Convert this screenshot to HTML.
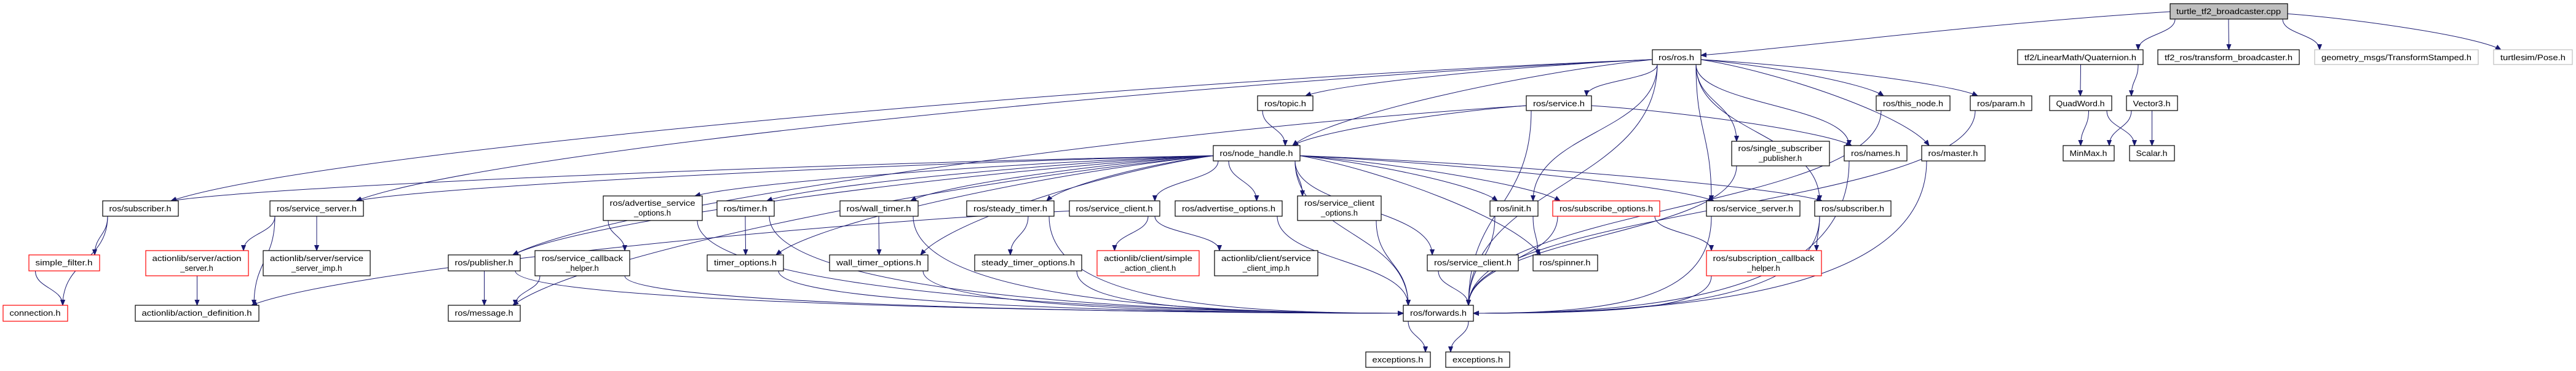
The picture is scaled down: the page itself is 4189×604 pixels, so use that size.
<!DOCTYPE html>
<html><head><meta charset="utf-8"><style>
html,body{margin:0;padding:0;background:#fff;}
svg{display:block;}
text{font-family:"Liberation Sans",sans-serif;font-size:13px;fill:#000;text-anchor:middle;}
rect{fill:#fff;stroke:#000;stroke-width:1.2;}
rect.red{stroke:#ff0000;}
rect.gray{stroke:#bfbfbf;}
rect.main{fill:#bfbfbf;}
path.e{fill:none;stroke:#191970;stroke-width:1;}
</style></head><body>
<svg id="s" width="4189" height="604" viewBox="0 0 4189 604" xmlns="http://www.w3.org/2000/svg">
<defs><marker id="a" viewBox="0 0 10 10" refX="10" refY="5" markerWidth="9" markerHeight="9" orient="auto" markerUnits="userSpaceOnUse"><path d="M0,1 L10,5 L0,9 z" fill="#191970" stroke="#191970"/></marker></defs>
<g id="edges"></g>
<g id="nodes">
<rect class="main" x="3529" y="6" width="191" height="25"/><text x="3624" y="23" textLength="170" lengthAdjust="spacingAndGlyphs">turtle_tf2_broadcaster.cpp</text>
<rect x="2687" y="81" width="79" height="24"/><text x="2726" y="98" textLength="58" lengthAdjust="spacingAndGlyphs">ros/ros.h</text>
<rect x="3281" y="81" width="204" height="24"/><text x="3383" y="98" textLength="182" lengthAdjust="spacingAndGlyphs">tf2/LinearMath/Quaternion.h</text>
<rect x="3509" y="81" width="230" height="24"/><text x="3624" y="98" textLength="208" lengthAdjust="spacingAndGlyphs">tf2_ros/transform_broadcaster.h</text>
<rect class="gray" x="3764" y="81" width="266" height="24"/><text x="3897" y="98" textLength="244" lengthAdjust="spacingAndGlyphs">geometry_msgs/TransformStamped.h</text>
<rect class="gray" x="4055" y="81" width="128" height="24"/><text x="4119" y="98" textLength="106" lengthAdjust="spacingAndGlyphs">turtlesim/Pose.h</text>
<rect x="2045" y="156" width="90" height="24"/><text x="2090" y="173" textLength="68" lengthAdjust="spacingAndGlyphs">ros/topic.h</text>
<rect x="2482" y="156" width="106" height="24"/><text x="2535" y="173" textLength="84" lengthAdjust="spacingAndGlyphs">ros/service.h</text>
<rect x="3051" y="156" width="120" height="24"/><text x="3111" y="173" textLength="98" lengthAdjust="spacingAndGlyphs">ros/this_node.h</text>
<rect x="3204" y="156" width="100" height="24"/><text x="3254" y="173" textLength="78" lengthAdjust="spacingAndGlyphs">ros/param.h</text>
<rect x="3333" y="156" width="101" height="24"/><text x="3383" y="173" textLength="79" lengthAdjust="spacingAndGlyphs">QuadWord.h</text>
<rect x="3458" y="156" width="83" height="24"/><text x="3499" y="173" textLength="61" lengthAdjust="spacingAndGlyphs">Vector3.h</text>
<rect x="1973" y="237" width="141" height="25"/><text x="2043" y="254" textLength="119" lengthAdjust="spacingAndGlyphs">ros/node_handle.h</text>
<rect x="2816" y="230" width="159" height="40"/><text x="2895" y="246" textLength="137" lengthAdjust="spacingAndGlyphs">ros/single_subscriber</text><text x="2895" y="262">_publisher.h</text>
<rect x="2999" y="237" width="102" height="25"/><text x="3050" y="254" textLength="80" lengthAdjust="spacingAndGlyphs">ros/names.h</text>
<rect x="3125" y="237" width="103" height="25"/><text x="3176" y="254" textLength="81" lengthAdjust="spacingAndGlyphs">ros/master.h</text>
<rect x="3355" y="237" width="83" height="25"/><text x="3396" y="254" textLength="61" lengthAdjust="spacingAndGlyphs">MinMax.h</text>
<rect x="3463" y="237" width="73" height="25"/><text x="3499" y="254" textLength="51" lengthAdjust="spacingAndGlyphs">Scalar.h</text>
<rect x="167" y="327" width="123" height="25"/><text x="228" y="344" textLength="101" lengthAdjust="spacingAndGlyphs">ros/subscriber.h</text>
<rect x="439" y="327" width="152" height="25"/><text x="515" y="344" textLength="130" lengthAdjust="spacingAndGlyphs">ros/service_server.h</text>
<rect x="981" y="319" width="161" height="40"/><text x="1061" y="335" textLength="139" lengthAdjust="spacingAndGlyphs">ros/advertise_service</text><text x="1061" y="351">_options.h</text>
<rect x="1166" y="327" width="93" height="25"/><text x="1212" y="344" textLength="71" lengthAdjust="spacingAndGlyphs">ros/timer.h</text>
<rect x="1366" y="327" width="127" height="25"/><text x="1429" y="344" textLength="105" lengthAdjust="spacingAndGlyphs">ros/wall_timer.h</text>
<rect x="1572" y="327" width="142" height="25"/><text x="1643" y="344" textLength="120" lengthAdjust="spacingAndGlyphs">ros/steady_timer.h</text>
<rect x="1739" y="327" width="147" height="25"/><text x="1812" y="344" textLength="125" lengthAdjust="spacingAndGlyphs">ros/service_client.h</text>
<rect x="1911" y="327" width="174" height="25"/><text x="1998" y="344" textLength="152" lengthAdjust="spacingAndGlyphs">ros/advertise_options.h</text>
<rect x="2110" y="319" width="136" height="40"/><text x="2178" y="335" textLength="114" lengthAdjust="spacingAndGlyphs">ros/service_client</text><text x="2178" y="351">_options.h</text>
<rect x="2423" y="327" width="78" height="25"/><text x="2462" y="344" textLength="56" lengthAdjust="spacingAndGlyphs">ros/init.h</text>
<rect class="red" x="2525" y="327" width="174" height="25"/><text x="2612" y="344" textLength="152" lengthAdjust="spacingAndGlyphs">ros/subscribe_options.h</text>
<rect x="2775" y="327" width="152" height="25"/><text x="2851" y="344" textLength="130" lengthAdjust="spacingAndGlyphs">ros/service_server.h</text>
<rect x="2951" y="327" width="124" height="25"/><text x="3013" y="344" textLength="102" lengthAdjust="spacingAndGlyphs">ros/subscriber.h</text>
<rect class="red" x="47" y="415" width="115" height="26"/><text x="104" y="432" textLength="93" lengthAdjust="spacingAndGlyphs">simple_filter.h</text>
<rect class="red" x="237" y="408" width="167" height="41"/><text x="320" y="425" textLength="145" lengthAdjust="spacingAndGlyphs">actionlib/server/action</text><text x="320" y="441">_server.h</text>
<rect x="428" y="408" width="174" height="41"/><text x="515" y="425" textLength="152" lengthAdjust="spacingAndGlyphs">actionlib/server/service</text><text x="515" y="441">_server_imp.h</text>
<rect x="729" y="415" width="117" height="26"/><text x="787" y="432" textLength="95" lengthAdjust="spacingAndGlyphs">ros/publisher.h</text>
<rect x="870" y="408" width="154" height="41"/><text x="947" y="425" textLength="132" lengthAdjust="spacingAndGlyphs">ros/service_callback</text><text x="947" y="441">_helper.h</text>
<rect x="1150" y="415" width="124" height="26"/><text x="1212" y="432" textLength="102" lengthAdjust="spacingAndGlyphs">timer_options.h</text>
<rect x="1349" y="415" width="160" height="26"/><text x="1429" y="432" textLength="138" lengthAdjust="spacingAndGlyphs">wall_timer_options.h</text>
<rect x="1585" y="415" width="174" height="26"/><text x="1672" y="432" textLength="152" lengthAdjust="spacingAndGlyphs">steady_timer_options.h</text>
<rect class="red" x="1784" y="408" width="166" height="41"/><text x="1867" y="425" textLength="144" lengthAdjust="spacingAndGlyphs">actionlib/client/simple</text><text x="1867" y="441">_action_client.h</text>
<rect x="1975" y="408" width="168" height="41"/><text x="2059" y="425" textLength="146" lengthAdjust="spacingAndGlyphs">actionlib/client/service</text><text x="2059" y="441">_client_imp.h</text>
<rect x="2321" y="415" width="148" height="26"/><text x="2395" y="432" textLength="126" lengthAdjust="spacingAndGlyphs">ros/service_client.h</text>
<rect x="2493" y="415" width="105" height="26"/><text x="2545" y="432" textLength="83" lengthAdjust="spacingAndGlyphs">ros/spinner.h</text>
<rect class="red" x="2775" y="408" width="187" height="41"/><text x="2868" y="425" textLength="165" lengthAdjust="spacingAndGlyphs">ros/subscription_callback</text><text x="2868" y="441">_helper.h</text>
<rect class="red" x="5" y="497" width="105" height="26"/><text x="57" y="514" textLength="83" lengthAdjust="spacingAndGlyphs">connection.h</text>
<rect x="220" y="497" width="201" height="26"/><text x="320" y="514" textLength="179" lengthAdjust="spacingAndGlyphs">actionlib/action_definition.h</text>
<rect x="729" y="497" width="117" height="26"/><text x="787" y="514" textLength="95" lengthAdjust="spacingAndGlyphs">ros/message.h</text>
<rect x="2282" y="497" width="114" height="26"/><text x="2339" y="514" textLength="92" lengthAdjust="spacingAndGlyphs">ros/forwards.h</text>
<rect x="2221" y="573" width="105" height="25"/><text x="2273" y="590" textLength="83" lengthAdjust="spacingAndGlyphs">exceptions.h</text>
<rect x="2351" y="573" width="104" height="25"/><text x="2403" y="590" textLength="82" lengthAdjust="spacingAndGlyphs">exceptions.h</text>
</g>
</svg>
<script>
var N={
turtle:[3529,3720,6,31],ros:[2687,2766,81,105],quat:[3281,3485,81,105],tb:[3509,3739,81,105],ts:[3764,4030,81,105],pose:[4055,4183,81,105],
topic:[2045,2135,156,180],service:[2482,2588,156,180],thisnode:[3051,3171,156,180],param:[3204,3304,156,180],qw:[3333,3434,156,180],v3:[3458,3541,156,180],
nh:[1973,2114,237,262],ssp:[2816,2975,230,270],names:[2999,3101,237,262],master:[3125,3228,237,262],minmax:[3355,3438,237,262],scalar:[3463,3536,237,262],
subL:[167,290,327,352],ssL:[439,591,327,352],aso:[981,1142,319,359],timer:[1166,1259,327,352],wt:[1366,1493,327,352],st:[1572,1714,327,352],sc:[1739,1886,327,352],
adv:[1911,2085,327,352],sco:[2110,2246,319,359],init:[2423,2501,327,352],subopt:[2525,2699,327,352],ssR:[2775,2927,327,352],subR:[2951,3075,327,352],
sf:[47,162,415,441],as:[237,404,408,449],ssimp:[428,602,408,449],pub:[729,846,415,441],scb:[870,1024,408,449],to:[1150,1274,415,441],wto:[1349,1509,415,441],
sto:[1585,1759,415,441],sac:[1784,1950,408,449],sci:[1975,2143,408,449],sc5:[2321,2469,415,441],spin:[2493,2598,415,441],sch:[2775,2962,408,449],
conn:[5,110,497,523],ad:[220,421,497,523],msg:[729,846,497,523],fw:[2282,2396,497,523],ex1:[2221,2326,573,598],ex2:[2351,2455,573,598]};
var E=[["turtle","ros"],["turtle","quat"],["turtle","tb"],["turtle","ts"],["turtle","pose"],
["quat","qw"],["quat","v3"],["qw","minmax"],["qw","scalar"],["v3","minmax"],["v3","scalar"],
["ros","subL"],["ros","ssL"],["ros","topic"],["ros","service"],["ros","nh"],["ros","init"],["ros","thisnode"],["ros","param"],["ros","ssp"],["ros","names"],["ros","master"],["ros","ssR"],["ros","subR"],["ros","fw"],
["service","nh"],["service","fw"],["service","names"],["service","pub"],["topic","nh"],
["nh","subL"],["nh","ssL"],["nh","aso"],["nh","timer"],["nh","wt"],["nh","st"],["nh","sc"],["nh","adv"],["nh","sco"],["nh","init"],["nh","subopt"],["nh","ssR"],["nh","subR"],["nh","pub"],["nh","msg"],["nh","to"],["nh","wto"],["nh","sc5"],["nh","spin"],["nh","fw"],
["subL","conn"],["subL","sf"],["sf","conn"],["ssL","ad"],["ssL","as"],["ssL","ssimp"],["as","ad"],
["aso","scb"],["aso","fw"],["scb","msg"],["scb","fw"],["pub","msg"],["pub","fw"],["timer","to"],["timer","fw"],["to","fw"],["wt","wto"],["wt","fw"],["wto","fw"],
["st","sto"],["st","fw"],["sto","fw"],["sc","sac"],["sc","sci"],["sc","ad"],["adv","fw"],["sco","fw"],["sc5","fw"],["init","spin"],["init","fw"],
["subopt","sch"],["subopt","fw"],["ssR","fw"],["subR","sch"],["subR","fw"],["sch","fw"],["ssp","fw"],["names","fw"],["master","fw"],["thisnode","fw"],["param","fw"],
["fw","ex1"],["fw","ex2"]];
function cl(v,a,b){return Math.max(a,Math.min(b,v));}
var out="";
E.forEach(function(e){var s=N[e[0]],t=N[e[1]];
var scx=(s[0]+s[1])/2,tcx=(t[0]+t[1])/2;
var sx=cl(tcx,s[0]+8,s[1]-8),sy=s[3];
var tx,ty,c1x,c1y,c2x,c2y;
var dx=tcx-scx, dy=t[2]-s[3];
var far=Math.abs(dx)>3*Math.max(dy,30)&&Math.abs(dx)>300;
if(far&&e[1]=="fw"){
 ty=(t[2]+t[3])/2; tx=dx>0?t[0]:t[1];
 c1x=sx;c1y=sy+(ty-sy)*0.8;c2x=tx-(dx>0?1:-1)*Math.min(400,Math.abs(dx)*0.5);c2y=ty;
}else if(far){
 sx=dx<0?s[0]:s[1]; sy=(s[2]+s[3])/2+4;
 tx=dx<0?t[1]-12:t[0]+12; ty=t[2];
 var ddx=tx-sx, ddy=ty-sy;
 c1x=sx+ddx*0.35;c1y=sy+ddy*0.15;c2x=tx-ddx*0.1;c2y=ty-ddy*0.35;
}else{
 tx=cl(scx,t[0]+8,t[1]-8);ty=t[2];
 c1x=sx;c1y=sy+dy*0.5;c2x=tx;c2y=ty-dy*0.5;
}
if(e[0]=="turtle"&&e[1]=="ros"){sx=3529;sy=19;tx=2766;ty=90;c1x=3200;c1y=40;c2x=2900;c2y=80;}
out+='<path class="e" marker-end="url(#a)" d="M'+sx+','+sy+' C'+c1x+','+c1y+' '+c2x+','+c2y+' '+tx+','+ty+'"/>';
});
document.getElementById("edges").innerHTML=out;
</script>
</body></html>
